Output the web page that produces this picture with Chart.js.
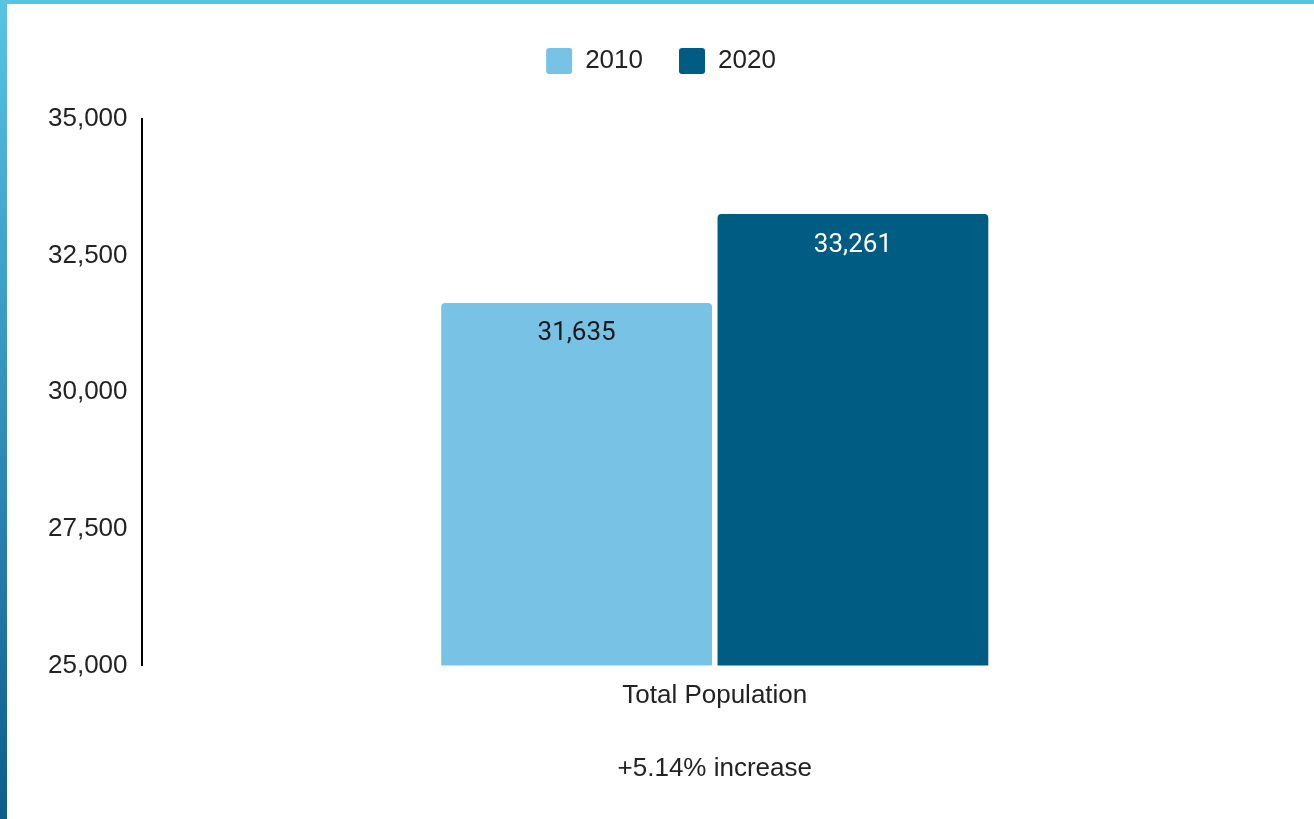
<!DOCTYPE html>
<html>
<head>
<meta charset="utf-8">
<script src="https://cdn.jsdelivr.net/npm/chart.js@4"></script>
<style>
  html, body { margin: 0; padding: 0; width: 1314px; height: 819px; overflow: hidden; }
  body { background: linear-gradient(to bottom, #58c4e2, #0e5c8c); position: relative; }
  .panel { position: absolute; left: 7px; top: 4px; right: 0; bottom: 0; background: #fff; }
  #chart { display: block; }
</style>
</head>
<body>
<div class="panel">
  <canvas id="chart" width="1307" height="815"></canvas>
</div>
<script>
const categories = ['Total Population'];
const years = ['2010', '2020'];
const pop2010 = [31635];
const pop2020 = [33261];
const yTicks = [25000, 27500, 30000, 32500, 35000];
const changeNote = '+5.14% increase';

document.addEventListener('DOMContentLoaded', () => {
    const barColors = ['#78c2e6', '#005c82'];
    const labelColors = ['#1a1a1a', '#ffffff'];

    // value labels just inside the top of each bar
    const valueLabels = {
        id: 'valueLabels',
        afterDatasetsDraw(chart) {
            const ctx = chart.ctx;
            ctx.save();
            ctx.font = '26px Roboto';
            ctx.textAlign = 'center';
            ctx.textBaseline = 'middle';
            chart.data.datasets.forEach((ds, i) => {
                chart.getDatasetMeta(i).data.forEach((bar, j) => {
                    ctx.fillStyle = labelColors[i];
                    ctx.fillText(ds.data[j].toLocaleString('en-US'), bar.x, bar.y + 31);
                });
            });
            ctx.restore();
        }
    };

    // leave more room between legend and plot
    const legendGap = {
        id: 'legendGap',
        beforeInit(chart) {
            const fit = chart.legend.fit;
            chart.legend.fit = function () {
                fit.call(this);
                this.height = 107;
            };
        }
    };

    const ctx = document.getElementById('chart').getContext('2d');
    new Chart(ctx, {
        type: 'bar',
        data: {
            labels: categories,
            datasets: [
                { label: years[0], data: pop2010, backgroundColor: barColors[0] },
                { label: years[1], data: pop2020, backgroundColor: barColors[1] }
            ]
        },
        options: {
            responsive: false,
            animation: false,
            layout: { padding: { left: 27, right: 26, top: 8, bottom: 35 } },
            datasets: {
                bar: {
                    categoryPercentage: 0.482,
                    barPercentage: 0.98,
                    borderRadius: { topLeft: 4, topRight: 4 },
                    borderSkipped: 'bottom'
                }
            },
            plugins: {
                legend: {
                    display: true,
                    position: 'top',
                    labels: {
                        color: '#222',
                        font: { family: 'Liberation Sans', size: 26 },
                        boxWidth: 26,
                        boxHeight: 26,
                        useBorderRadius: true,
                        borderRadius: 3,
                        padding: 36
                    }
                },
                tooltip: { enabled: false }
            },
            scales: {
                y: {
                    min: yTicks[0],
                    max: yTicks[yTicks.length - 1],
                    afterBuildTicks: (axis) => { axis.ticks = yTicks.map(v => ({ value: v })); },
                    grid: { display: false, drawTicks: false },
                    border: { display: true, color: '#000', width: 2 },
                    ticks: {
                        color: '#222',
                        padding: 14,
                        font: { family: 'Liberation Sans', size: 26 }
                    }
                },
                x: {
                    grid: { display: false, drawTicks: false },
                    border: { display: false },
                    ticks: {
                        color: '#222',
                        padding: 15,
                        font: { family: 'Liberation Sans', size: 26 }
                    },
                    title: {
                        display: true,
                        text: changeNote,
                        color: '#222',
                        padding: { top: 26, bottom: 0 },
                        font: { family: 'Liberation Sans', size: 26 }
                    }
                }
            }
        },
        plugins: [valueLabels, legendGap]
    });
});
</script>
</body>
</html>
